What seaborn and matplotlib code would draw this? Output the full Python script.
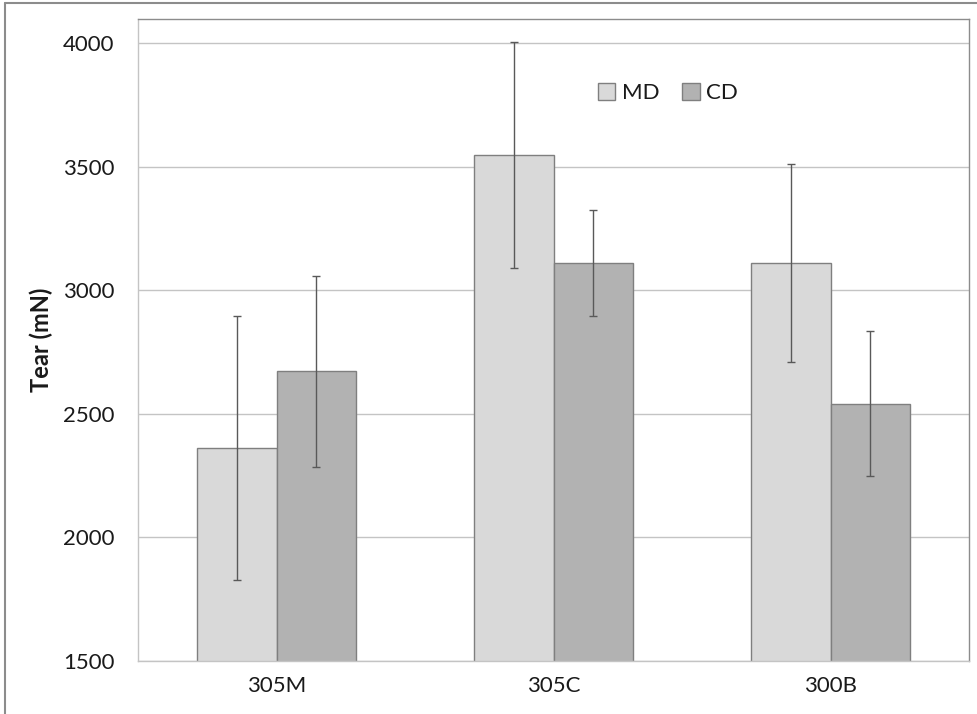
import numpy as np
import pandas as pd
import matplotlib
matplotlib.use('Agg')
import matplotlib.pyplot as plt
import seaborn as sns

samples = ['305M', '305C', '300B']
md_tear = [2360, 3548, 3110]
md_err = [535, 458, 399]
cd_tear = [2672, 3110, 2540]
cd_err = [386, 213, 293]

df = pd.DataFrame({
    'sample': samples * 2,
    'dir': ['MD'] * 3 + ['CD'] * 3,
    'tear': md_tear + cd_tear,
})
errs = {'MD': md_err, 'CD': cd_err}

sns.set_style('white')
plt.rcParams['font.family'] = ['Lato', 'DejaVu Sans']

fig = plt.figure(figsize=(9.78, 7.14), dpi=100)
ax = fig.add_axes([0.1414, 0.0747, 0.8497, 0.8983])

sns.barplot(data=df, x='sample', y='tear', hue='dir', ax=ax,
            palette={'MD': '#d9d9d9', 'CD': '#b2b2b2'},
            width=0.573, gap=0, edgecolor='#7f7f7f', linewidth=1,
            errorbar=None, zorder=2)

for cont, lvl in zip(ax.containers, ['MD', 'CD']):
    xs = [b.get_x() + b.get_width() / 2 for b in cont]
    hs = [b.get_height() for b in cont]
    ax.errorbar(xs, hs, yerr=errs[lvl], fmt='none', ecolor='#595959',
                elinewidth=1, capsize=3, capthick=1, zorder=3)

ax.set_ylim(1500, 4097)
ax.set_xlim(-0.5, 2.5)
ax.set_yticks([1500, 2000, 2500, 3000, 3500, 4000])
ax.yaxis.grid(True, color='#c4c4c4', linewidth=1, zorder=0)
ax.set_axisbelow(True)

ax.set_xticks([-0.5, 0.5, 1.5, 2.5], minor=True)
ax.tick_params(axis='x', which='major', length=0, pad=11, labelsize=16, labelcolor='#1a1a1a')
ax.tick_params(axis='x', which='minor', length=8, width=1, color='#c4c4c4', direction='out')
ax.tick_params(axis='y', length=8, width=1, color='#c4c4c4', direction='out', pad=9,
               labelsize=16, labelcolor='#1a1a1a')

for s in ['left', 'bottom']:
    ax.spines[s].set_color('#c4c4c4')
for s in ['top', 'right']:
    ax.spines[s].set_color('#8c8c8c')
for s in ax.spines.values():
    s.set_linewidth(1)

ax.set_xlabel('')
ax.set_ylabel('Tear (mN)', fontsize=17, fontweight='bold', color='#1a1a1a', labelpad=7)

leg = ax.legend(ncol=2, frameon=False, fontsize=16, loc='center',
                bbox_to_anchor=(0.683, 0.87), bbox_transform=fig.transFigure,
                handlelength=0.8, handleheight=0.8, handletextpad=0.3, columnspacing=1.0)
for t in leg.get_texts():
    t.set_color('#1a1a1a')

# outer chart border (left and top visible)
fig.add_artist(plt.Line2D([0.005, 0.005], [0, 0.996], transform=fig.transFigure,
                          color='#8c8c8c', linewidth=1.5))
fig.add_artist(plt.Line2D([0.005, 1], [0.996, 0.996], transform=fig.transFigure,
                          color='#8c8c8c', linewidth=1.5))

fig.savefig('out.png', dpi=100)
